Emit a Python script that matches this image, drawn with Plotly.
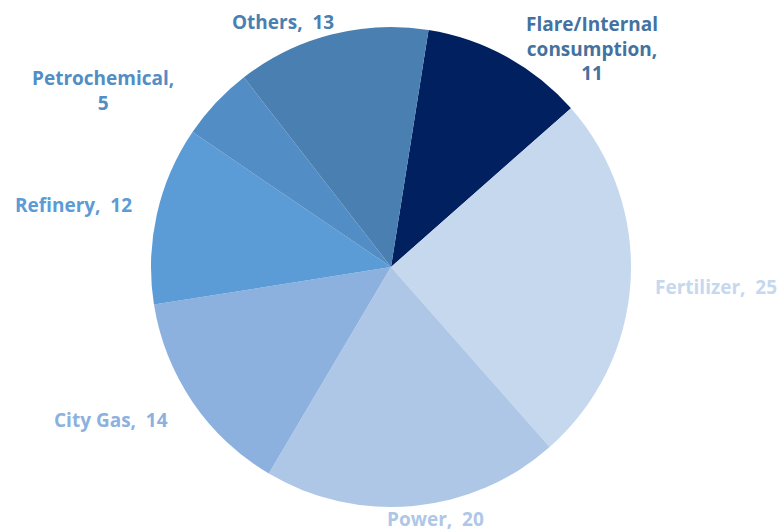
import plotly.graph_objects as go

# Gas consumption by sector (share, %)
sectors = ["Flare/Internal consumption", "Fertilizer", "Power", "City Gas",
           "Refinery", "Petrochemical", "Others"]
shares = [11, 25, 20, 14, 12, 5, 13]

# Label text as it is laid out (line breaks for the wrapped labels)
label_text = ["Flare/Internal<br>consumption,<br>{}", "Fertilizer,  {}", "Power,  {}",
              "City Gas,  {}", "Refinery,  {}", "Petrochemical,<br>{}", "Others,  {}"]

slice_colors = ["#002060", "#C6D8EE", "#AEC7E7", "#8DB1DE", "#5B9BD6", "#528DC5", "#4A7FB1"]
label_colors = ["#44729F", "#C6D8EE", "#AEC7E7", "#8DB1DE", "#5B9BD6", "#528DC5", "#4A7FB1"]

# Label centres in pixels (x from left, y from top) of the 782x532 canvas
label_px = [(592, 49), (716, 287), (435, 519), (111, 420), (73, 205), (103, 91), (283, 22)]

W, H = 782, 532

fig = go.Figure(go.Pie(
    labels=sectors,
    values=shares,
    sort=False,
    direction="clockwise",
    rotation=9,
    marker=dict(colors=slice_colors, line=dict(width=0)),
    textinfo="none",
    hoverinfo="label+value",
    domain=dict(x=[150 / W, 632 / W], y=[(H - 507) / H, (H - 27) / H]),
    showlegend=False,
))

for name, v, fmt, col, (px, py) in zip(sectors, shares, label_text, label_colors, label_px):
    fig.add_annotation(
        x=px / W, y=1 - py / H, xref="paper", yref="paper",
        text=fmt.format(v), showarrow=False,
        font=dict(family="Open Sans", size=19, color=col, weight="bold"),
        align="center", xanchor="center", yanchor="middle",
    )

fig.update_layout(
    width=W, height=H,
    margin=dict(l=0, r=0, t=0, b=0),
    paper_bgcolor="white",
    plot_bgcolor="white",
)

fig.write_html("out.html")
